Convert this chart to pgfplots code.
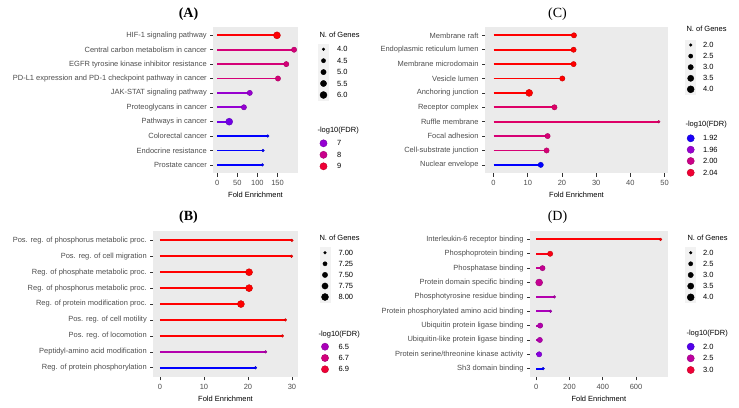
\documentclass[border=0pt]{standalone}
\usepackage{fontspec}
\setmainfont{Liberation Sans}
\newfontfamily\serif{Liberation Serif}
\usepackage{pgfplots}
\pgfplotsset{compat=1.18}
\usepackage{pgfplotstable}
\definecolor{gg30}{HTML}{4D4D4D}
\definecolor{gg20}{HTML}{333333}
\definecolor{panelbg}{HTML}{EBEBEB}
\definecolor{keybg}{HTML}{F2F2F2}
\newcommand{\sfs}{\fontsize{7.5}{9}\selectfont}

% points: row, fold enrichment, number of genes, -log10(FDR)
\pgfplotstableread{
row fe n fdr
1 148.5 6 9.50
2 191.0 5 8.25
3 171.6 5 8.25
4 151.0 5 8.25
5 81.0 5 7.05
6 66.5 5 7.00
7 30.0 6 6.65
8 125.6 4 5.90
9 114.0 4 5.90
10 112.5 4 5.90
}\tabA
% segments (from 0 to fold enrichment)
\pgfplotstableread{
x row fdr
0 1 9.50
148.5 1 9.50
0 2 8.25
191.0 2 8.25
0 3 8.25
171.6 3 8.25
0 4 8.25
151.0 4 8.25
0 5 7.05
81.0 5 7.05
0 6 7.00
66.5 6 7.00
0 7 6.65
30.0 7 6.65
0 8 5.90
125.6 8 5.90
0 9 5.90
114.0 9 5.90
0 10 5.90
112.5 10 5.90
}\segA

\pgfplotstableread{
row fe n fdr
1 30.0 7 7.03
2 29.9 7 7.03
3 20.25 8 7.03
4 20.25 8 7.03
5 18.4 8 7.03
6 28.5 7 7.03
7 27.8 7 7.03
8 24.0 7 6.54
9 21.7 7 6.14
}\tabB
\pgfplotstableread{
x row fdr
0 1 7.03
30.0 1 7.03
0 2 7.03
29.9 2 7.03
0 3 7.03
20.25 3 7.03
0 4 7.03
20.25 4 7.03
0 5 7.03
18.4 5 7.03
0 6 7.03
28.5 6 7.03
0 7 7.03
27.8 7 7.03
0 8 6.54
24.0 8 6.54
0 9 6.14
21.7 9 6.14
}\segB

\pgfplotstableread{
row fe n fdr
1 23.5 3 2.061
2 23.4 3 2.061
3 23.4 3 2.061
4 20.1 3 2.061
5 10.4 4 2.061
6 17.8 3 2.017
7 48.3 2 2.017
8 15.8 3 2.010
9 15.5 3 2.010
10 13.8 3 1.913
}\tabC
\pgfplotstableread{
x row fdr
0 1 2.061
23.5 1 2.061
0 2 2.061
23.4 2 2.061
0 3 2.061
23.4 3 2.061
0 4 2.061
20.1 4 2.061
0 5 2.061
10.4 5 2.061
0 6 2.017
17.8 6 2.017
0 7 2.017
48.3 7 2.017
0 8 2.010
15.8 8 2.010
0 9 2.010
15.5 9 2.010
0 10 1.913
13.8 10 1.913
}\segC

\pgfplotstableread{
row fe n fdr
1 747 2 3.20
2 84 3 3.14
3 38 3 2.57
4 18 4 2.57
5 110 2 2.43
6 86 2 2.36
7 24 3 2.43
8 22 3 2.43
9 18 3 2.14
10 42 2 1.79
}\tabD
\pgfplotstableread{
x row fdr
0 1 3.20
747 1 3.20
0 2 3.14
84 2 3.14
0 3 2.57
38 3 2.57
0 4 2.57
18 4 2.57
0 5 2.43
110 5 2.43
0 6 2.36
86 6 2.36
0 7 2.43
24 7 2.43
0 8 2.43
22 8 2.43
0 9 2.14
18 9 2.14
0 10 1.79
42 10 1.79
}\segD

\pgfplotsset{
  colormap={ggbr}{rgb255=(0,0,255) rgb255=(138,0,224) rgb255=(190,0,160) rgb255=(228,0,90) rgb255=(255,0,0)},
  sizemap/.style n args={3}{
    visualization depends on={sqrt(1.82+10.43*(\thisrow{#1}-#2)/#3) \as \msize},
    scatter/@pre marker code/.append style={/tikz/mark size=\msize pt}},
  panel/.style={scale only axis, anchor=south west, y dir=reverse,
    axis background/.style={fill=panelbg, draw=none},
    axis line style={draw=none},
    tick align=outside, major tick length=3pt,
    tick style={gg20, line width=0.6pt},
    xtick pos=bottom, ytick pos=left,
    ticklabel style={font=\sfs, text=gg30},
    /pgf/number format/assume math mode=true,
    xlabel={Fold Enrichment},
    xlabel style={font=\sfs, text=black},
    clip=false},
  lines/.style={patch, patch type=line, shader=flat, line width=1.9pt, line cap=butt, point meta=\thisrow{fdr}},
  dots/.style={scatter, only marks, mark=*, point meta=\thisrow{fdr}},
}

\begin{document}
\begin{tikzpicture}
\useasboundingbox (0,0) rectangle (739pt,407pt);

% Panel A
\begin{axis}[panel, at={(213.3pt,233.5pt)}, width=84.4pt, height=146.8pt,
  xmin=-9.5, xmax=200, ymin=0.4, ymax=10.6,
  xtick={0,50,100,150}, ytick={1,...,10},
  yticklabels={HIF-1 signaling pathway, Central carbon metabolism in cancer, EGFR tyrosine kinase inhibitor resistance, PD-L1 expression and PD-1 checkpoint pathway in cancer, JAK-STAT signaling pathway, Proteoglycans in cancer, Pathways in cancer, Colorectal cancer, Endocrine resistance, Prostate cancer},
  point meta min=5.9, point meta max=9.55]
\addplot[lines] table[x=x, y=row] {\segA};
\addplot[dots, sizemap={n}{4}{2}] table[x=fe, y=row] {\tabA};
\end{axis}

% Panel C
\begin{axis}[panel, at={(485pt,233.5pt)}, width=183pt, height=146.8pt,
  xmin=-2.5, xmax=51, ymin=0.4, ymax=10.6,
  xtick={0,10,20,30,40,50}, ytick={1,...,10},
  yticklabels={Membrane raft, Endoplasmic reticulum lumen, Membrane microdomain, Vesicle lumen, Anchoring junction, Receptor complex, Ruffle membrane, Focal adhesion, Cell-substrate junction, Nuclear envelope},
  point meta min=1.913, point meta max=2.061]
\addplot[lines] table[x=x, y=row] {\segC};
\addplot[dots, sizemap={n}{2}{2}] table[x=fe, y=row] {\tabC};
\end{axis}

% Panel B
\begin{axis}[panel, at={(153.3pt,29.7pt)}, width=144.4pt, height=146.5pt,
  xmin=-1.5, xmax=31.3, ymin=0.4, ymax=9.6,
  xtick={0,10,20,30}, ytick={1,...,9},
  yticklabels={Pos. reg. of phosphorus metabolic proc., Pos. reg. of cell migration, Reg. of phosphate metabolic proc., Reg. of phosphorus metabolic proc., Reg. of protein modification proc., Pos. reg. of cell motility, Pos. reg. of locomotion, Peptidyl-amino acid modification, Reg. of protein phosphorylation},
  point meta min=6.14, point meta max=7.03]
\addplot[lines] table[x=x, y=row] {\segB};
\addplot[dots, sizemap={n}{7}{1}] table[x=fe, y=row] {\tabB};
\end{axis}

% Panel D
\begin{axis}[panel, at={(530pt,29.7pt)}, width=137.7pt, height=146.5pt,
  xmin=-37, xmax=790, ymin=0.4, ymax=10.6,
  xtick={0,200,400,600}, ytick={1,...,10},
  yticklabels={Interleukin-6 receptor binding, Phosphoprotein binding, Phosphatase binding, Protein domain specific binding, Phosphotyrosine residue binding, Protein phosphorylated amino acid binding, Ubiquitin protein ligase binding, Ubiquitin-like protein ligase binding, Protein serine/threonine kinase activity, Sh3 domain binding},
  point meta min=1.786, point meta max=3.214]
\addplot[lines] table[x=x, y=row] {\segD};
\addplot[dots, sizemap={n}{2}{2}] table[x=fe, y=row] {\tabD};
\end{axis}

% Overlay: titles and legends (pixel coordinates)
\begin{axis}[at={(0pt,0pt)}, anchor=south west, scale only axis, width=739pt, height=407pt,
  xmin=0, xmax=739, ymin=0, ymax=407, y dir=reverse, hide axis, clip=false,
  point meta min=0, point meta max=1]
\node[font=\serif\bfseries\fontsize{14}{16}\selectfont] at (axis cs:188.5,14) {(A)};
\node[font=\serif\fontsize{14}{16}\selectfont] at (axis cs:557.5,14) {(C)};
\node[font=\serif\bfseries\fontsize{14}{16}\selectfont] at (axis cs:188.5,216.7) {(B)};
\node[font=\serif\fontsize{14}{16}\selectfont] at (axis cs:557.5,217) {(D)};

% Legend A
\fill[keybg] (axis cs:318,43.6) rectangle (axis cs:329,100.7);
\node[anchor=west, font=\sfs] at (axis cs:316,35) {N. of Genes};
\addplot[scatter, only marks, mark=*, scatter/use mapped color={draw=black, fill=black}, point meta=0, sizemap={v}{4}{2}] table[x=x, y=y] {
x y v
323.5 49.3 4.0
323.5 60.7 4.5
323.5 72.1 5.0
323.5 83.5 5.5
323.5 95.0 6.0
};
\node[anchor=west, font=\sfs] at (axis cs:333.5,49.3) {4.0};
\node[anchor=west, font=\sfs] at (axis cs:333.5,60.7) {4.5};
\node[anchor=west, font=\sfs] at (axis cs:333.5,72.1) {5.0};
\node[anchor=west, font=\sfs] at (axis cs:333.5,83.5) {5.5};
\node[anchor=west, font=\sfs] at (axis cs:333.5,95.0) {6.0};
\node[anchor=west, font=\sfs] at (axis cs:314,131) {-log10(FDR)};
\addplot[scatter, only marks, mark=*, mark size=3.6pt, point meta={(\thisrow{v}-5.9)/3.65}] table[x=x, y=y] {
x y v
323.5 143.3 7
323.5 154.8 8
323.5 166.3 9
};
\node[anchor=west, font=\sfs] at (axis cs:333.5,143.3) {7};
\node[anchor=west, font=\sfs] at (axis cs:333.5,154.8) {8};
\node[anchor=west, font=\sfs] at (axis cs:333.5,166.3) {9};

% Legend B
\fill[keybg] (axis cs:319.5,247.1) rectangle (axis cs:330.5,302.6);
\node[anchor=west, font=\sfs] at (axis cs:316,237.7) {N. of Genes};
\addplot[scatter, only marks, mark=*, scatter/use mapped color={draw=black, fill=black}, point meta=0, sizemap={v}{7}{1}] table[x=x, y=y] {
x y v
325 252.7 7.00
325 263.8 7.25
325 274.9 7.50
325 286.0 7.75
325 297.0 8.00
};
\node[anchor=west, font=\sfs] at (axis cs:335,252.7) {7.00};
\node[anchor=west, font=\sfs] at (axis cs:335,263.8) {7.25};
\node[anchor=west, font=\sfs] at (axis cs:335,274.9) {7.50};
\node[anchor=west, font=\sfs] at (axis cs:335,286.0) {7.75};
\node[anchor=west, font=\sfs] at (axis cs:335,297.0) {8.00};
\node[anchor=west, font=\sfs] at (axis cs:315,334.3) {-log10(FDR)};
\addplot[scatter, only marks, mark=*, mark size=3.6pt, point meta={(\thisrow{v}-6.14)/0.89}] table[x=x, y=y] {
x y v
325 346.7 6.5
325 358.0 6.7
325 369.3 6.9
};
\node[anchor=west, font=\sfs] at (axis cs:335,346.7) {6.5};
\node[anchor=west, font=\sfs] at (axis cs:335,358.0) {6.7};
\node[anchor=west, font=\sfs] at (axis cs:335,369.3) {6.9};

% Legend C
\fill[keybg] (axis cs:685.2,39.5) rectangle (axis cs:696.2,94.8);
\node[anchor=west, font=\sfs] at (axis cs:683,29.3) {N. of Genes};
\addplot[scatter, only marks, mark=*, scatter/use mapped color={draw=black, fill=black}, point meta=0, sizemap={v}{2}{2}] table[x=x, y=y] {
x y v
690.7 45.0 2.0
690.7 56.1 2.5
690.7 67.2 3.0
690.7 78.3 3.5
690.7 89.3 4.0
};
\node[anchor=west, font=\sfs] at (axis cs:699.5,45.0) {2.0};
\node[anchor=west, font=\sfs] at (axis cs:699.5,56.1) {2.5};
\node[anchor=west, font=\sfs] at (axis cs:699.5,67.2) {3.0};
\node[anchor=west, font=\sfs] at (axis cs:699.5,78.3) {3.5};
\node[anchor=west, font=\sfs] at (axis cs:699.5,89.3) {4.0};
\node[anchor=west, font=\sfs] at (axis cs:682,125) {-log10(FDR)};
\addplot[scatter, only marks, mark=*, mark size=3.6pt, point meta={(\thisrow{v}-1.913)/0.148}] table[x=x, y=y] {
x y v
690.7 138.3 1.92
690.7 149.7 1.96
690.7 161.0 2.00
690.7 172.7 2.04
};
\node[anchor=west, font=\sfs] at (axis cs:699.5,138.3) {1.92};
\node[anchor=west, font=\sfs] at (axis cs:699.5,149.7) {1.96};
\node[anchor=west, font=\sfs] at (axis cs:699.5,161.0) {2.00};
\node[anchor=west, font=\sfs] at (axis cs:699.5,172.7) {2.04};

% Legend D
\fill[keybg] (axis cs:685.2,247.1) rectangle (axis cs:696.2,302.9);
\node[anchor=west, font=\sfs] at (axis cs:684,237.7) {N. of Genes};
\addplot[scatter, only marks, mark=*, scatter/use mapped color={draw=black, fill=black}, point meta=0, sizemap={v}{2}{2}] table[x=x, y=y] {
x y v
690.7 252.7 2.0
690.7 263.8 2.5
690.7 275.0 3.0
690.7 286.1 3.5
690.7 297.3 4.0
};
\node[anchor=west, font=\sfs] at (axis cs:699.5,252.7) {2.0};
\node[anchor=west, font=\sfs] at (axis cs:699.5,263.8) {2.5};
\node[anchor=west, font=\sfs] at (axis cs:699.5,275.0) {3.0};
\node[anchor=west, font=\sfs] at (axis cs:699.5,286.1) {3.5};
\node[anchor=west, font=\sfs] at (axis cs:699.5,297.3) {4.0};
\node[anchor=west, font=\sfs] at (axis cs:683,333.3) {-log10(FDR)};
\addplot[scatter, only marks, mark=*, mark size=3.6pt, point meta={(\thisrow{v}-1.786)/1.428}] table[x=x, y=y] {
x y v
690.7 346.7 2.0
690.7 358.3 2.5
690.7 370.0 3.0
};
\node[anchor=west, font=\sfs] at (axis cs:699.5,346.7) {2.0};
\node[anchor=west, font=\sfs] at (axis cs:699.5,358.3) {2.5};
\node[anchor=west, font=\sfs] at (axis cs:699.5,370.0) {3.0};
\end{axis}
\end{tikzpicture}
\end{document}
